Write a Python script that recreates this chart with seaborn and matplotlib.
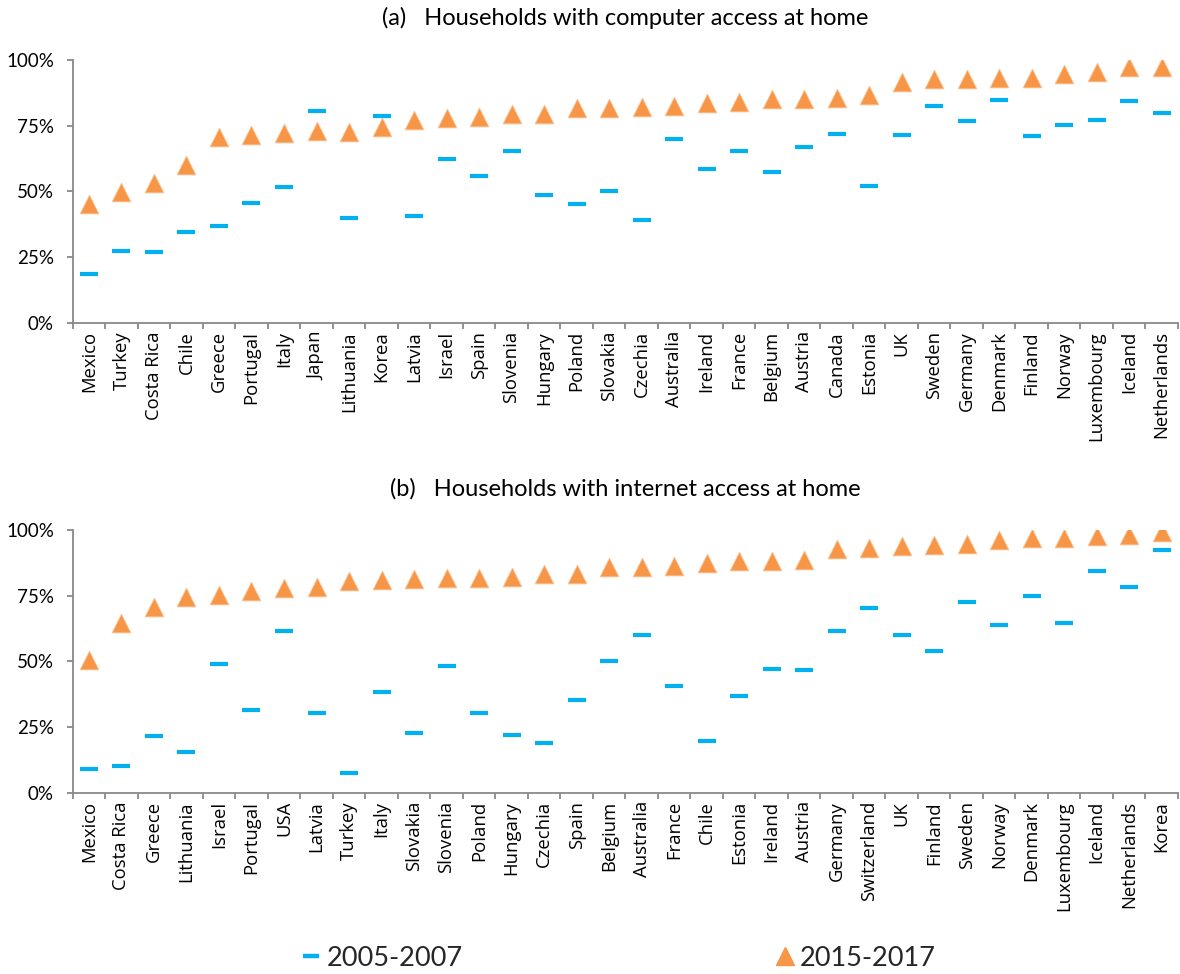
import numpy as np
import pandas as pd
import matplotlib
matplotlib.use("Agg")
import matplotlib.pyplot as plt
from matplotlib.lines import Line2D
import seaborn as sns

# Panel (a): households with computer access at home (%)
countries_a = ["Mexico", "Turkey", "Costa Rica", "Chile", "Greece", "Portugal", "Italy",
               "Japan", "Lithuania", "Korea", "Latvia", "Israel", "Spain", "Slovenia",
               "Hungary", "Poland", "Slovakia", "Czechia", "Australia", "Ireland",
               "France", "Belgium", "Austria", "Canada", "Estonia", "UK", "Sweden",
               "Germany", "Denmark", "Finland", "Norway", "Luxembourg", "Iceland",
               "Netherlands"]
computer_2005_2007 = [18.7, 27.4, 27.0, 34.6, 36.9, 45.7, 51.8, 80.7, 40.0, 78.8, 40.7,
                      62.4, 56.0, 65.5, 48.7, 45.3, 50.3, 39.2, 70.1, 58.6, 65.5, 57.5,
                      67.0, 72.0, 52.2, 71.6, 82.6, 76.9, 84.8, 71.2, 75.4, 77.3, 84.5,
                      79.9]
computer_2015_2017 = [45.3, 49.9, 53.0, 60.1, 70.5, 71.3, 72.4, 72.8, 72.7, 74.5, 77.2,
                      78.0, 78.4, 79.4, 79.5, 81.6, 81.7, 82.1, 82.4, 83.8, 84.1, 85.0,
                      85.3, 85.5, 86.7, 91.5, 92.6, 92.6, 93.1, 93.3, 94.8, 95.3, 97.2,
                      97.5]

# Panel (b): households with internet access at home (%)
countries_b = ["Mexico", "Costa Rica", "Greece", "Lithuania", "Israel", "Portugal", "USA",
               "Latvia", "Turkey", "Italy", "Slovakia", "Slovenia", "Poland", "Hungary",
               "Czechia", "Spain", "Belgium", "Australia", "France", "Chile", "Estonia",
               "Ireland", "Austria", "Germany", "Switzerland", "UK", "Finland", "Sweden",
               "Norway", "Denmark", "Luxembourg", "Iceland", "Netherlands", "Korea"]
internet_2005_2007 = [9.1, 10.3, 21.7, 15.6, 49.1, 31.6, 61.7, 30.5, 7.6, 38.5, 22.8,
                      48.4, 30.5, 22.1, 19.0, 35.4, 50.3, 60.2, 40.7, 19.8, 36.9, 47.2,
                      46.8, 61.7, 70.4, 60.2, 54.1, 72.7, 64.0, 75.0, 64.7, 84.5, 78.4,
                      92.5]
internet_2015_2017 = [50.5, 64.7, 70.8, 74.6, 75.1, 76.7, 77.8, 78.4, 80.6, 80.8, 81.2,
                      81.7, 81.7, 82.3, 83.1, 83.4, 85.8, 86.0, 86.3, 87.5, 88.2, 88.2,
                      88.7, 92.7, 93.0, 93.9, 94.3, 94.7, 96.4, 96.8, 97.1, 97.7, 98.2,
                      99.4]

titles = ["(a)   Households with computer access at home",
          "(b)   Households with internet access at home"]
period_labels = ["2005-2007", "2015-2017"]
y_ticks = [0, 25, 50, 75, 100]

BLUE = "#00B0F0"
ORANGE = "#F79646"
SPINE = "#898989"

sns.set_theme(style="white")
plt.rcParams["font.family"] = ["Lato", "DejaVu Sans"]

fig = plt.figure(figsize=(11.8, 9.74), dpi=100)
ax_a = fig.add_axes([0.0616, 0.6687, 0.9367, 0.2697])
ax_b = fig.add_axes([0.0616, 0.1861, 0.9367, 0.2697])

panels = [
    (ax_a, titles[0], countries_a, computer_2005_2007, computer_2015_2017),
    (ax_b, titles[1], countries_b, internet_2005_2007, internet_2015_2017),
]

for ax, title, names, early, late in panels:
    df = pd.DataFrame({"pos": np.arange(len(names)), "country": names,
                       "early": early, "late": late})
    sns.scatterplot(data=df, x="pos", y="early", ax=ax, marker="_", s=13.5 ** 2,
                    color=BLUE, edgecolor=BLUE, linewidth=3.0, zorder=3, legend=False)
    sns.scatterplot(data=df, x="pos", y="late", ax=ax, marker="^", s=13.5 ** 2,
                    color=ORANGE, edgecolor="#FBC59A", linewidth=0.6, zorder=2,
                    legend=False)
    n = len(names)
    ax.set_xlim(-0.5, n - 0.5)
    ax.set_ylim(0, 100)
    ax.set_xlabel("")
    ax.set_ylabel("")
    ax.set_yticks(y_ticks)
    ax.set_yticklabels([f"{v}%" for v in y_ticks])
    ax.set_xticks(df["pos"])
    ax.set_xticklabels(df["country"], rotation=90, family=["Open Sans", "DejaVu Sans"])
    ax.set_xticks(np.arange(n + 1) - 0.5, minor=True)
    ax.tick_params(axis="x", which="major", length=0, pad=6, labelsize=13.3,
                   labelcolor="black")
    ax.tick_params(axis="x", which="minor", length=4.5, width=1.3, color=SPINE,
                   direction="out", bottom=True)
    ax.tick_params(axis="y", length=4.5, width=1.3, color=SPINE, direction="out",
                   left=True, labelsize=13.5, labelcolor="black", pad=9)
    for side in ["top", "right"]:
        ax.spines[side].set_visible(False)
    for side in ["left", "bottom"]:
        ax.spines[side].set_color(SPINE)
        ax.spines[side].set_linewidth(1.3)
    ax.grid(False)
    ax.set_title(title, fontsize=17, pad=25, color="black")

handles = [
    Line2D([], [], linestyle="none", marker="_", markersize=11, markeredgewidth=3.2,
           color=BLUE),
    Line2D([], [], linestyle="none", marker="^", markersize=13, color=ORANGE,
           markeredgecolor=ORANGE),
]
fig.legend(handles, period_labels, loc="center", bbox_to_anchor=(0.525, 0.016),
           ncol=2, frameon=False, fontsize=19.5, columnspacing=11.6,
           handlelength=0.6, handletextpad=0.25)

fig.savefig("out.png", dpi=100, facecolor="white")
